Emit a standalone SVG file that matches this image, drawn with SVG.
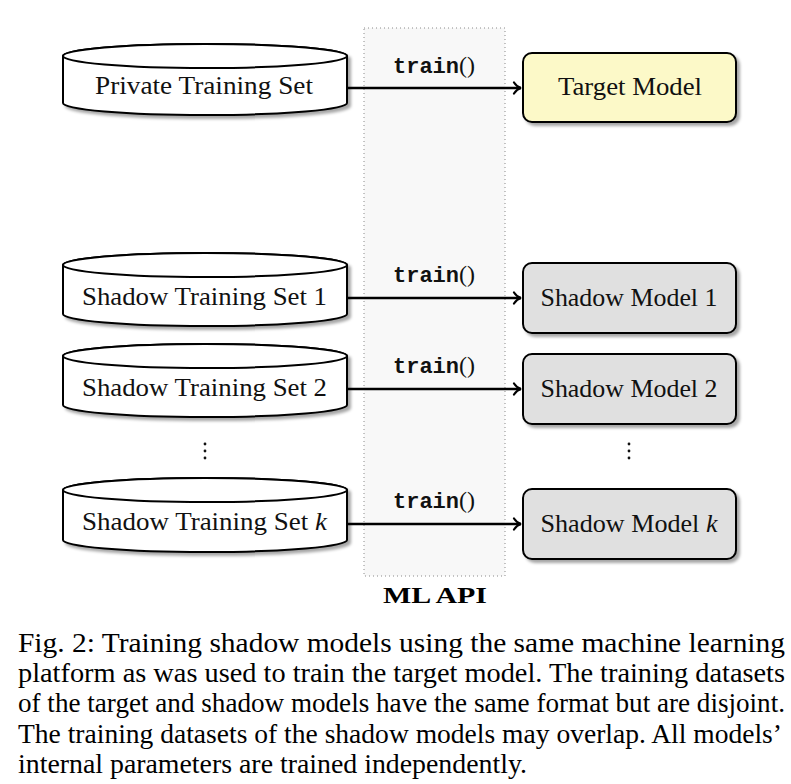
<svg xmlns="http://www.w3.org/2000/svg" width="791" height="784" viewBox="0 0 791 784">
<defs>
<filter id="sh" x="-10%" y="-20%" width="130%" height="160%">
<feDropShadow dx="3" dy="3" stdDeviation="1.5" flood-color="#000" flood-opacity="0.35"/>
</filter>
<marker id="arr" markerWidth="12" markerHeight="14" refX="9" refY="7" orient="auto" markerUnits="userSpaceOnUse">
<path d="M2,1.5 Q5,6 9,7 Q5,8 2,12.5" fill="none" stroke="#000" stroke-width="2.2" stroke-linecap="round"/>
</marker>
</defs>
<style>
.cyl{fill:#fff;stroke:#000;stroke-width:2}
.box{stroke:#000;stroke-width:2}
.lbl{font-family:"Liberation Serif","DejaVu Serif",serif;font-size:25px;fill:#111}
.tt{font-family:"Liberation Mono","DejaVu Sans Mono",monospace;font-size:22px;font-weight:bold;fill:#111}
.par{font-family:"Liberation Serif","DejaVu Serif",serif;font-size:24px;fill:#111}
.cap{font-family:"Liberation Serif","DejaVu Serif",serif;font-size:27px;fill:#000}
.edge{stroke:#000;stroke-width:2.6;fill:none}
</style>
<rect width="791" height="784" fill="#fff"/>

<g id="mlapi">
<rect x="364" y="28" width="141" height="548" fill="#f8f8f8" stroke="#8a8a8a" stroke-width="1" stroke-dasharray="1,3"/>
<text x="435" y="603" text-anchor="middle" style="font-family:'Liberation Serif','DejaVu Serif',serif;font-size:24px;font-weight:bold" textLength="104" lengthAdjust="spacingAndGlyphs">ML API</text>
</g>

<g id="private">
<g filter="url(#sh)">
<path class="cyl" d="M63,56 L63,103 A142,12 0 0 0 347,103 L347,56 A142,12 0 0 0 63,56 Z"/>
<ellipse class="cyl" cx="205" cy="56" rx="142" ry="12"/>
</g>
<text class="lbl" x="204" y="94" text-anchor="middle" textLength="218" lengthAdjust="spacingAndGlyphs">Private Training Set</text>
</g>

<g id="shadowset1">
<g filter="url(#sh)">
<path class="cyl" d="M63,265 L63,314 A142,12 0 0 0 347,314 L347,265 A142,12 0 0 0 63,265 Z"/>
<ellipse class="cyl" cx="205" cy="265" rx="142" ry="12"/>
</g>
<text class="lbl" x="204.5" y="305" text-anchor="middle" textLength="245" lengthAdjust="spacingAndGlyphs">Shadow Training Set 1</text>
</g>

<g id="shadowset2">
<g filter="url(#sh)">
<path class="cyl" d="M63,356 L63,405 A142,12 0 0 0 347,405 L347,356 A142,12 0 0 0 63,356 Z"/>
<ellipse class="cyl" cx="205" cy="356" rx="142" ry="12"/>
</g>
<text class="lbl" x="204.5" y="396" text-anchor="middle" textLength="245" lengthAdjust="spacingAndGlyphs">Shadow Training Set 2</text>
</g>

<g id="shadowsetk">
<g filter="url(#sh)">
<path class="cyl" d="M63,490 L63,540 A142,12 0 0 0 347,540 L347,490 A142,12 0 0 0 63,490 Z"/>
<ellipse class="cyl" cx="205" cy="490" rx="142" ry="12"/>
</g>
<text class="lbl" x="204.5" y="530" text-anchor="middle" textLength="245" lengthAdjust="spacingAndGlyphs">Shadow Training Set <tspan font-style="italic">k</tspan></text>
</g>

<g id="target">
<rect class="box" x="523" y="53" width="213" height="69" rx="9" fill="#fcf9c8" filter="url(#sh)"/>
<text class="lbl" x="630" y="95" text-anchor="middle" textLength="144" lengthAdjust="spacingAndGlyphs">Target Model</text>
</g>

<g id="shadowmodel1">
<rect class="box" x="523" y="263" width="213" height="70" rx="9" fill="#e0e0e0" filter="url(#sh)"/>
<text class="lbl" x="629" y="306" text-anchor="middle" textLength="177" lengthAdjust="spacingAndGlyphs">Shadow Model 1</text>
</g>

<g id="shadowmodel2">
<rect class="box" x="523" y="354" width="213" height="70" rx="9" fill="#e0e0e0" filter="url(#sh)"/>
<text class="lbl" x="629" y="397" text-anchor="middle" textLength="177" lengthAdjust="spacingAndGlyphs">Shadow Model 2</text>
</g>

<g id="shadowmodelk">
<rect class="box" x="523" y="489" width="213" height="70" rx="9" fill="#e0e0e0" filter="url(#sh)"/>
<text class="lbl" x="629" y="532" text-anchor="middle" textLength="177" lengthAdjust="spacingAndGlyphs">Shadow Model <tspan font-style="italic">k</tspan></text>
</g>

<g id="dots" fill="#111">
<circle cx="205" cy="444" r="1.4"/><circle cx="205" cy="451" r="1.4"/><circle cx="205" cy="458" r="1.4"/>
<circle cx="629" cy="444" r="1.4"/><circle cx="629" cy="451" r="1.4"/><circle cx="629" cy="458" r="1.4"/>
</g>

<g id="connectors">
<line class="edge" x1="347" y1="88" x2="521" y2="88" marker-end="url(#arr)"/>
<line class="edge" x1="347" y1="298" x2="521" y2="298" marker-end="url(#arr)"/>
<line class="edge" x1="347" y1="389" x2="521" y2="389" marker-end="url(#arr)"/>
<line class="edge" x1="347" y1="524" x2="521" y2="524" marker-end="url(#arr)"/>
<text x="393" y="73"><tspan class="tt">train</tspan><tspan class="par">()</tspan></text>
<text x="393" y="282"><tspan class="tt">train</tspan><tspan class="par">()</tspan></text>
<text x="393" y="373"><tspan class="tt">train</tspan><tspan class="par">()</tspan></text>
<text x="393" y="508"><tspan class="tt">train</tspan><tspan class="par">()</tspan></text>
</g>

<g id="caption">
<text class="cap" x="18" y="652" textLength="767" lengthAdjust="spacingAndGlyphs">Fig. 2: Training shadow models using the same machine learning</text>
<text class="cap" x="18" y="682" textLength="767" lengthAdjust="spacingAndGlyphs">platform as was used to train the target model. The training datasets</text>
<text class="cap" x="18" y="712" textLength="767" lengthAdjust="spacingAndGlyphs">of the target and shadow models have the same format but are disjoint.</text>
<text class="cap" x="18" y="743" textLength="764" lengthAdjust="spacingAndGlyphs">The training datasets of the shadow models may overlap. All models’</text>
<text class="cap" x="18" y="773" textLength="509" lengthAdjust="spacingAndGlyphs">internal parameters are trained independently.</text>
</g>
</svg>
